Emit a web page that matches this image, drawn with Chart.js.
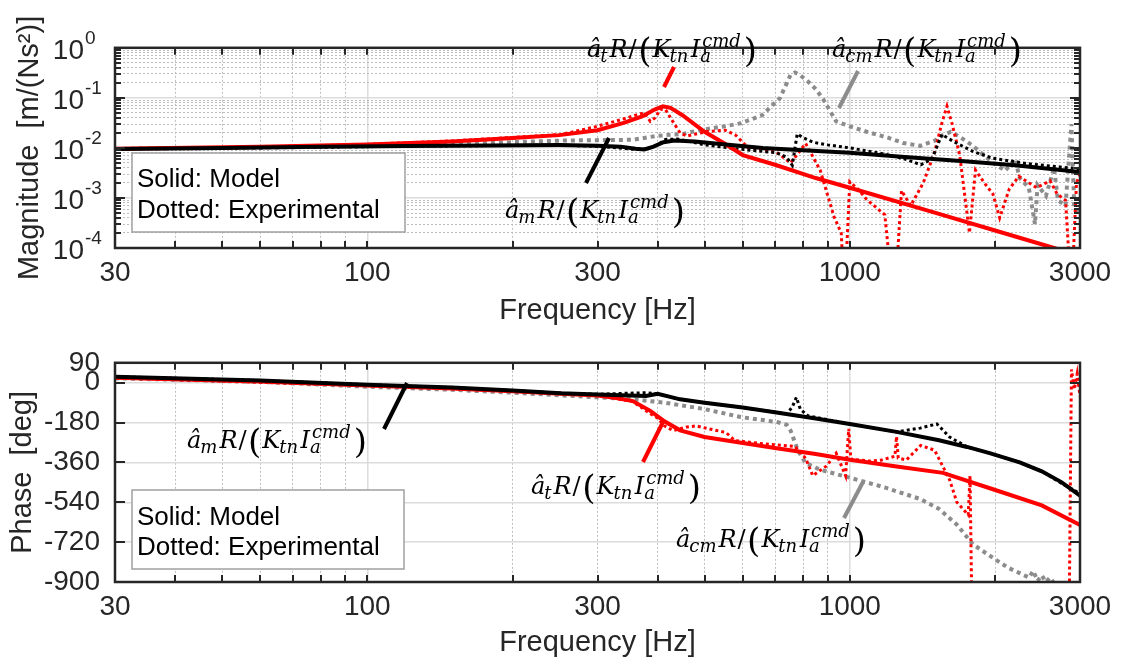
<!DOCTYPE html>
<html>
<head>
<meta charset="utf-8">
<script src="https://cdn.jsdelivr.net/npm/chart.js@4.4.1/dist/chart.umd.min.js"></script>
<style>
html,body{margin:0;padding:0;background:#ffffff;}
#wrap{position:relative;width:1123px;height:663px;overflow:hidden;background:#fff;}
.box{position:absolute;left:0;width:1123px;}
</style>
</head>
<body>
<div id="wrap">
  <div class="box" style="top:0;height:331px"><canvas id="c1" width="1123" height="331"></canvas></div>
  <div class="box" style="top:331px;height:332px"><canvas id="c2" width="1123" height="332"></canvas></div>
</div>
<script>
// ---------------- axis ticks / labels ----------------
const FREQ_TICKS = [30,40,50,60,70,80,90,100,200,300,400,500,600,700,800,900,1000,2000,3000];
const FREQ_LABELS = [30,100,300,1000,3000];
const MAG_DECADES = [1e-4,1e-3,1e-2,1e-1,1];
const MAG_EXPONENTS = ['-4','-3','-2','-1','0'];
const PHASE_TICKS = [90,0,-180,-360,-540,-720,-900];
const LEGEND_LINES = ['Solid: Model','Dotted: Experimental'];

// ---------------- magnitude data [m/(Ns^2)] ----------------
const mModelMagF = [30,50,80,120,180,250,300,335,360,375,392,411,433,477,560,660,800,1000,1300,1700,2200,3000];
const mModelMag  = [0.0095,0.0100,0.0105,0.0109,0.0112,0.0114,0.0111,0.0106,0.0096,0.0093,0.0106,0.0130,0.0141,0.0134,0.0116,0.0100,0.0090,0.0080,0.0066,0.0055,0.0045,0.0033];

const tModelMagF = [30,60,100,150,200,250,300,340,370,395,410,425,450,500,550,600,700,850,1000,1500,2000,2650,3000];
const tModelMag  = [0.0096,0.0105,0.0117,0.0135,0.0158,0.0180,0.0226,0.0315,0.042,0.059,0.0675,0.063,0.045,0.021,0.0122,0.0072,0.0046,0.0025,0.0016,0.00051,0.000224,0.0001,0.00007];

const mExpMagF = [30,60,100,150,200,252,300,340,360,380,400,415,440,460,500,594,705,740,760,778,800,838,900,1000,1100,1182,1300,1403,1480,1552,1650,1800,1980,2350,2700,3000];
const mExpMag  = [0.0096,0.0101,0.0106,0.0110,0.0112,0.0113,0.0108,0.0098,0.0093,0.0095,0.0115,0.0148,0.0150,0.0138,0.0115,0.0094,0.0080,0.0065,0.0045,0.0190,0.0160,0.013,0.0115,0.0100,0.0085,0.0075,0.0060,0.0046,0.0060,0.0185,0.013,0.0085,0.0062,0.0048,0.0042,0.0038];

const tExpMagF = [30,60,100,150,200,252,295,330,360,375,386,395,405,415,433,445,460,480,507,552,580,616,651,705,754,810,868,927,960,975,1000,1040,1084,1182,1230,1240,1280,1337,1420,1499,1550,1590,1630,1690,1770,1822,1900,1980,2045,2140,2240,2440,2600,2690,2800,2880,2950,3000];
const tExpMag  = [0.0096,0.0104,0.0118,0.0138,0.0162,0.0185,0.026,0.035,0.045,0.050,0.034,0.040,0.059,0.058,0.030,0.020,0.0173,0.019,0.0213,0.0226,0.018,0.010,0.0093,0.0082,0.005,0.0123,0.0036,0.00043,0.0002,0.00001,0.0021,0.0015,0.00093,0.00046,0.00001,0.00001,0.0014,0.0007,0.002,0.0082,0.03,0.068,0.03,0.0071,0.0002,0.0036,0.002,0.0012,0.0004,0.0015,0.0027,0.0016,0.0022,0.0012,0.0009,0.00001,0.002,0.003];

const cmExpMagF = [30,60,100,150,200,252,300,355,400,450,490,550,594,658,717,754,770,790,818,850,880,937,1000,1084,1200,1290,1400,1500,1560,1620,1700,1800,1980,2100,2200,2250,2350,2420,2450,2550,2650,2700,2800,2880,2920,3000];
const cmExpMag  = [0.0096,0.0101,0.0108,0.0118,0.0130,0.0140,0.0143,0.0145,0.0175,0.0190,0.0227,0.027,0.031,0.045,0.10,0.29,0.32,0.28,0.215,0.15,0.095,0.034,0.027,0.021,0.016,0.0125,0.011,0.014,0.018,0.021,0.016,0.011,0.005,0.0035,0.006,0.0025,0.0016,0.0003,0.0018,0.0011,0.004,0.0009,0.0007,0.03,0.0006,0.0005];

// ---------------- phase data [deg] ----------------
const mModelPhF = [30,60,100,150,200,252,300,378,400,445,500,600,705,850,1000,1250,1531,1750,1949,2250,2500,2750,3000];
const mModelPh  = [27,10,-9,-22,-35,-48,-53,-60,-50,-75,-90,-112,-134,-162,-186,-222,-260,-290,-318,-360,-400,-450,-510];

const tModelPhF = [30,60,100,150,200,252,300,326,355,386,413,445,500,600,705,850,1000,1250,1560,1980,2500,3000];
const tModelPh  = [22,6,-13,-26,-38,-50,-58,-68,-83,-127,-174,-215,-245,-272,-296,-322,-348,-378,-407,-481,-554,-643];

const mExpPhF = [30,60,100,150,200,252,300,340,378,400,445,500,600,705,740,760,775,790,820,1000,1250,1400,1515,1610,1750,1949,2250,2500,2750,3000];
const mExpPh  = [27,10,-9,-22,-35,-48,-52,-48,-45,-50,-75,-90,-112,-134,-140,-110,-66,-120,-150,-186,-222,-205,-186,-245,-290,-318,-360,-400,-455,-500];

const tExpPhF = [30,100,200,300,355,386,400,413,430,459,480,530,554,578,651,770,810,838,895,937,980,995,1005,1100,1160,1240,1250,1260,1310,1403,1499,1610,1667,1760,1775,1790,2850,2880,2920,2960,3000];
const tExpPh  = [22,-13,-38,-56,-85,-140,-160,-195,-216,-200,-195,-216,-225,-261,-274,-288,-341,-420,-376,-318,-420,-208,-345,-354,-350,-332,-243,-340,-349,-283,-305,-438,-540,-597,-420,-1000,-1000,60,-30,40,-60];

const cmExpPhF = [30,60,100,150,200,252,300,355,413,500,594,705,740,754,780,810,868,1000,1182,1403,1531,1667,1800,1980,2130,2250,2352,2400,2450,2500,2550,2600,2650];
const cmExpPh  = [20,4,-18,-32,-45,-57,-66,-75,-90,-119,-155,-177,-190,-216,-305,-363,-393,-429,-473,-526,-570,-641,-730,-791,-836,-860,-880,-850,-895,-870,-900,-880,-905];

// ---------------- styling helpers ----------------
const FONT = '"Liberation Sans", Arial, Helvetica, sans-serif';
const SERIF = '"DejaVu Serif", "Liberation Serif", serif';
const AX = '#262626';
const RED = '#ff0000', BLACK = '#000000', GRAY = '#8c8c8c';

function isDecade(v){ const l = Math.log10(v); return Math.abs(l - Math.round(l)) < 1e-6; }
function pts(f, v){ return f.map((x, i) => ({x: x, y: v[i]})); }
function solid(label, f, v, color){
  return {label, data: pts(f, v), borderColor: color, backgroundColor: color, borderWidth: 4, pointRadius: 0, tension: 0, fill: false, borderCapStyle: 'butt'};
}
function dotted(label, f, v, color, w, dash){
  return {label, data: pts(f, v), borderColor: color, backgroundColor: color, borderWidth: w, borderDash: dash, pointRadius: 0, tension: 0, fill: false, borderCapStyle: 'butt'};
}

const MAG_TICKS = [];
MAG_DECADES.forEach((d, i) => { MAG_TICKS.push(d); if (i < MAG_DECADES.length - 1) for (let k = 2; k <= 9; k++) MAG_TICKS.push(d * k); });

// "â_sub R/(K_tn I_a^cmd)" laid out glyph by glyph
function drawMath(ctx, x0, y0, sub){
  const MAIN = 'italic 24px ' + SERIF, SMALL = 'italic 18px ' + SERIF, BIG = '34px ' + SERIF, UP = '24px ' + SERIF;
  let x = x0;
  ctx.fillStyle = '#000'; ctx.textAlign = 'left'; ctx.textBaseline = 'alphabetic';
  const put = (s, f, dy, gap) => { ctx.font = f; ctx.fillText(s, x, y0 + dy); x += ctx.measureText(s).width + gap; };
  put('â', MAIN, 0, -1);
  put(sub, SMALL, 5, 2);
  put('R', MAIN, 0, 1);
  put('/', UP, 0, 1.5);
  put('(', BIG, 5, 1);
  put('K', MAIN, 0, -1);
  put('tn', SMALL, 5, 2.5);
  put('I', MAIN, 0, 0);
  const xs = x;
  ctx.font = SMALL;
  ctx.fillText('a', xs, y0 + 5);
  ctx.fillText('cmd', xs + 2, y0 - 10);
  x = xs + Math.max(ctx.measureText('a').width, ctx.measureText('cmd').width + 2) + 3;
  put(')', BIG, 5, 0);
}

const decor = {
  id: 'decor',
  afterDraw(chart, args, o){
    const ctx = chart.ctx, a = chart.chartArea, xs = chart.scales.x, ys = chart.scales.y, oy = o.offsetY;
    ctx.save();
    ctx.lineCap = 'butt';
    ctx.strokeStyle = AX; ctx.lineWidth = 2;
    ctx.beginPath();
    FREQ_TICKS.forEach(v => {
      const px = Math.round(xs.getPixelForValue(v));
      ctx.moveTo(px, a.bottom); ctx.lineTo(px, a.bottom - 7);
      ctx.moveTo(px, a.top); ctx.lineTo(px, a.top + 7);
    });
    ys.ticks.forEach(t => {
      const py = Math.round(ys.getPixelForValue(t.value));
      const L = o.yTickLen(t.value);
      ctx.moveTo(a.left, py); ctx.lineTo(a.left + L, py);
      ctx.moveTo(a.right, py); ctx.lineTo(a.right - L, py);
    });
    ctx.stroke();
    ctx.lineWidth = 2.5;
    ctx.strokeRect(a.left, a.top, a.right - a.left, a.bottom - a.top);
    if (o.exponents){
      ctx.fillStyle = AX; ctx.font = '19px ' + FONT; ctx.textAlign = 'left'; ctx.textBaseline = 'middle';
      MAG_DECADES.forEach((d, i) => { ctx.fillText(MAG_EXPONENTS[i], 85, ys.getPixelForValue(d) - 9); });
    }
    const b = o.box;
    ctx.fillStyle = '#fff'; ctx.fillRect(b.x, b.y - oy, b.w, b.h);
    ctx.strokeStyle = '#a0a0a0'; ctx.lineWidth = 1.5; ctx.strokeRect(b.x, b.y - oy, b.w, b.h);
    ctx.fillStyle = '#000'; ctx.font = '26px ' + FONT; ctx.textAlign = 'left'; ctx.textBaseline = 'alphabetic';
    ctx.fillText(LEGEND_LINES[0], b.x + 5, b.l1 - oy);
    ctx.fillText(LEGEND_LINES[1], b.x + 5, b.l2 - oy);
    o.leaders.forEach(L => {
      ctx.strokeStyle = L.c; ctx.lineWidth = 4; ctx.beginPath();
      ctx.moveTo(L.x1, L.y1 - oy); ctx.lineTo(L.x2, L.y2 - oy); ctx.stroke();
    });
    o.labels.forEach(m => drawMath(ctx, m.x, m.y - oy, m.sub));
    ctx.restore();
  }
};

function xScale(height, titlePad){
  return {
    type: 'logarithmic', min: 30, max: 3000,
    afterBuildTicks: s => { s.ticks = FREQ_TICKS.map(v => ({value: v})); },
    afterFit: s => { s.height = height; },
    ticks: {autoSkip: false, maxRotation: 0, minRotation: 0, padding: 8, color: AX, font: {family: FONT, size: 28},
      callback: v => FREQ_LABELS.includes(v) ? String(v) : ''},
    grid: {drawTicks: false,
      color: c => (c.tick && isDecade(c.tick.value)) ? '#dcdcdc' : '#bdbdbd',
      lineWidth: c => (c.tick && isDecade(c.tick.value)) ? 1.5 : 1},
    border: {display: false, dash: c => (c.tick && isDecade(c.tick.value)) ? [] : [2, 2]},
    title: {display: true, text: 'Frequency [Hz]', color: AX, font: {family: FONT, size: 29}, padding: {top: 0, bottom: titlePad}}
  };
}

// ---------------- magnitude chart ----------------
new Chart(document.getElementById('c1'), {
  type: 'line',
  data: {datasets: [
    solid('â_m R/(K_tn I_a^cmd) model', mModelMagF, mModelMag, BLACK),
    solid('â_t R/(K_tn I_a^cmd) model', tModelMagF, tModelMag, RED),
    dotted('â_m R/(K_tn I_a^cmd) experimental', mExpMagF, mExpMag, BLACK, 3, [3, 3]),
    dotted('â_t R/(K_tn I_a^cmd) experimental', tExpMagF, tExpMag, RED, 3, [3, 3]),
    dotted('â_cm R/(K_tn I_a^cmd) experimental', cmExpMagF, cmExpMag, GRAY, 4, [4, 4])
  ]},
  options: {
    responsive: false, animation: false,
    layout: {padding: {left: 0, right: 43, top: 22, bottom: 0}},
    plugins: {
      legend: {display: false}, tooltip: {enabled: false},
      decor: {
        offsetY: 0, exponents: true,
        yTickLen: v => isDecade(v) ? 10 : 6,
        box: {x: 132, y: 153, w: 273, h: 79, l1: 187, l2: 218},
        leaders: [
          {c: RED, x1: 674, y1: 67, x2: 664, y2: 87},
          {c: GRAY, x1: 858, y1: 71, x2: 839, y2: 108},
          {c: BLACK, x1: 609, y1: 138, x2: 586, y2: 183}
        ],
        labels: [{x: 587, y: 57, sub: 't'}, {x: 832, y: 57, sub: 'cm'}, {x: 505, y: 218, sub: 'm'}]
      }
    },
    scales: {
      x: xScale(83, 3),
      y: {
        type: 'logarithmic', min: 1e-4, max: 1,
        afterBuildTicks: s => { s.ticks = MAG_TICKS.map(v => ({value: v})); },
        afterFit: s => { s.width = 115; },
        ticks: {autoSkip: false, padding: 31, labelOffset: 3, color: AX, font: {family: FONT, size: 28},
          callback: v => isDecade(v) ? '10' : ''},
        grid: {drawTicks: false,
          color: c => (c.tick && isDecade(c.tick.value)) ? '#dcdcdc' : '#bdbdbd',
          lineWidth: c => (c.tick && isDecade(c.tick.value)) ? 1.5 : 1},
        border: {display: false, dash: c => (c.tick && isDecade(c.tick.value)) ? [] : [2, 2]},
        title: {display: true, text: 'Magnitude  [m/(Ns²)]', color: AX, font: {family: FONT, size: 29}, padding: {top: 13, bottom: 0}}
      }
    }
  },
  plugins: [decor]
});

// ---------------- phase chart ----------------
new Chart(document.getElementById('c2'), {
  type: 'line',
  data: {datasets: [
    solid('â_m R/(K_tn I_a^cmd) model', mModelPhF, mModelPh, BLACK),
    solid('â_t R/(K_tn I_a^cmd) model', tModelPhF, tModelPh, RED),
    dotted('â_m R/(K_tn I_a^cmd) experimental', mExpPhF, mExpPh, BLACK, 3, [3, 3]),
    dotted('â_t R/(K_tn I_a^cmd) experimental', tExpPhF, tExpPh, RED, 3, [3, 3]),
    dotted('â_cm R/(K_tn I_a^cmd) experimental', cmExpPhF, cmExpPh, GRAY, 4, [4, 4])
  ]},
  options: {
    responsive: false, animation: false,
    layout: {padding: {left: 0, right: 43, top: 26, bottom: 0}},
    plugins: {
      legend: {display: false}, tooltip: {enabled: false},
      decor: {
        offsetY: 331, exponents: false,
        yTickLen: v => 10,
        box: {x: 132, y: 490, w: 272, h: 79, l1: 525, l2: 555},
        leaders: [
          {c: BLACK, x1: 407, y1: 383, x2: 384, y2: 429},
          {c: RED, x1: 664, y1: 420, x2: 643, y2: 462},
          {c: GRAY, x1: 863, y1: 482, x2: 844, y2: 518}
        ],
        labels: [{x: 187, y: 448, sub: 'm'}, {x: 531, y: 494, sub: 't'}, {x: 676, y: 547, sub: 'cm'}]
      }
    },
    scales: {
      x: xScale(81, 3),
      y: {
        type: 'linear', min: -900, max: 90,
        afterBuildTicks: s => { s.ticks = PHASE_TICKS.map(v => ({value: v})); },
        afterFit: s => { s.width = 115; },
        ticks: {autoSkip: false, padding: 15, color: AX, font: {family: FONT, size: 28}, callback: v => String(v)},
        grid: {drawTicks: false, color: '#dcdcdc', lineWidth: 1.5},
        border: {display: false},
        title: {display: true, text: 'Phase  [deg]', color: AX, font: {family: FONT, size: 29}, padding: {top: 6, bottom: 0}}
      }
    }
  },
  plugins: [decor]
});
</script>
</body>
</html>
